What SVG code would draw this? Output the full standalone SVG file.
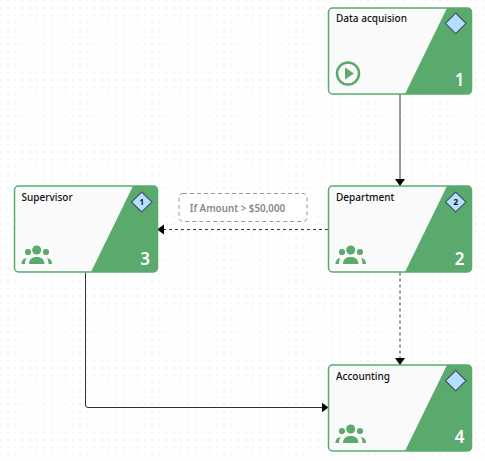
<svg xmlns="http://www.w3.org/2000/svg" width="485" height="461" viewBox="0 0 485 461">
<defs>
<pattern id="dots" width="7.2" height="7.2" patternUnits="userSpaceOnUse"><rect x="0" y="0" width="2" height="2" rx="1" fill="#f1f1f1"/></pattern>
<marker id="arr" markerWidth="10" markerHeight="11" refX="7" refY="5.500" orient="auto" markerUnits="userSpaceOnUse"><path d="M0 0.500L7 5.500L0 10.500Z" fill="#000"/></marker>
<g id="people" fill="#5aaa6e">
<circle cx="15.700" cy="4.500" r="4.500"/><circle cx="7" cy="6.500" r="3.100"/><circle cx="25" cy="6.500" r="3.100"/>
<path d="M8 18.500c0-4.500 3-7 7.700-7s7.700 2.500 7.700 7Z"/>
<path d="M0.500 18.500c0-3 1.500-5.500 5-6c-1 1.500-1.500 3.500-1.500 6Z"/>
<path d="M31 18.500c0-3-1.500-5.500-5-6c1 1.500 1.500 3.500 1.500 6Z"/>
</g>
<g id="card">
<rect x="0.500" y="0.500" width="143" height="86" rx="4" fill="#fafafa" stroke="#5aaa6e" stroke-width="1.500"/>
<path d="M119 0.500H139.500a4 4 0 0 1 4 4V82.500a4 4 0 0 1-4 4H77Z" fill="#5aaa6e"/>
</g>
</defs>
<style>
.t{font:500 10px "Noto Sans","Open Sans",sans-serif;fill:#111}
.n{font:600 17px "Noto Sans","Open Sans",sans-serif;fill:#fff;text-anchor:middle}
.d{fill:#b3e0ff;stroke:#4a5568;stroke-width:1.200}
.b{font:700 8px "Noto Sans",sans-serif;fill:#111;text-anchor:middle}
.l{fill:none;stroke:#333;stroke-width:1}
</style>
<rect width="485" height="461" fill="#fff"/>
<rect width="485" height="461" fill="url(#dots)"/>
<g id="connectors">
<path class="l" d="M400 94V186" marker-end="url(#arr)"/>
<path class="l" d="M400 272.500V365" stroke-dasharray="3 3" marker-end="url(#arr)"/>
<path class="l" d="M328 229.500H157" stroke-dasharray="3 3" marker-end="url(#arr)"/>
<path class="l" d="M85.500 272.500V405a2.500 2.500 0 0 0 2.500 2.500H328.500" marker-end="url(#arr)"/>
</g>
<g id="label-edge">
<rect x="179" y="193.500" width="128" height="28" rx="4" fill="#fff" stroke="#999" stroke-dasharray="4 3"/>
<text x="237.500" y="212" text-anchor="middle" style="font:600 9.800px 'Noto Sans',sans-serif;fill:#888">If Amount &gt; $50,000</text>
</g>
<g id="node-1">
<use href="#card" x="328" y="7.500"/>
<text class="t" x="336" y="22">Data acquision</text>
<path class="d" d="M455.700 13L466 23.300L455.700 33.600L445.400 23.300Z"/>
<circle cx="348" cy="73.500" r="11" fill="none" stroke="#5aaa6e" stroke-width="2.500"/>
<path d="M345 67.500L354 73.500L345 79.500Z" fill="#5aaa6e"/>
<text class="n" x="459.500" y="86">1</text>
</g>
<g id="node-2">
<use href="#card" x="328" y="185.500"/>
<text class="t" x="336" y="201">Department</text>
<path class="d" d="M455.700 192L466 202L455.700 212L445.400 202Z"/>
<text class="b" x="455.700" y="205">2</text>
<use href="#people" x="335" y="245.500"/>
<text class="n" x="459.500" y="265">2</text>
</g>
<g id="node-3">
<use href="#card" x="14" y="185.500"/>
<text class="t" x="21.500" y="201">Supervisor</text>
<path class="d" d="M141.700 192L152 202L141.700 212L131.400 202Z"/>
<text class="b" x="141.700" y="205">1</text>
<use href="#people" x="21" y="245.500"/>
<text class="n" x="145" y="265">3</text>
</g>
<g id="node-4">
<use href="#card" x="328" y="364.500"/>
<text class="t" x="336" y="380">Accounting</text>
<path class="d" d="M455.700 370.500L466 380.700L455.700 391L445.400 380.700Z"/>
<use href="#people" x="335" y="424.500"/>
<text class="n" x="459.500" y="443">4</text>
</g>
</svg>
